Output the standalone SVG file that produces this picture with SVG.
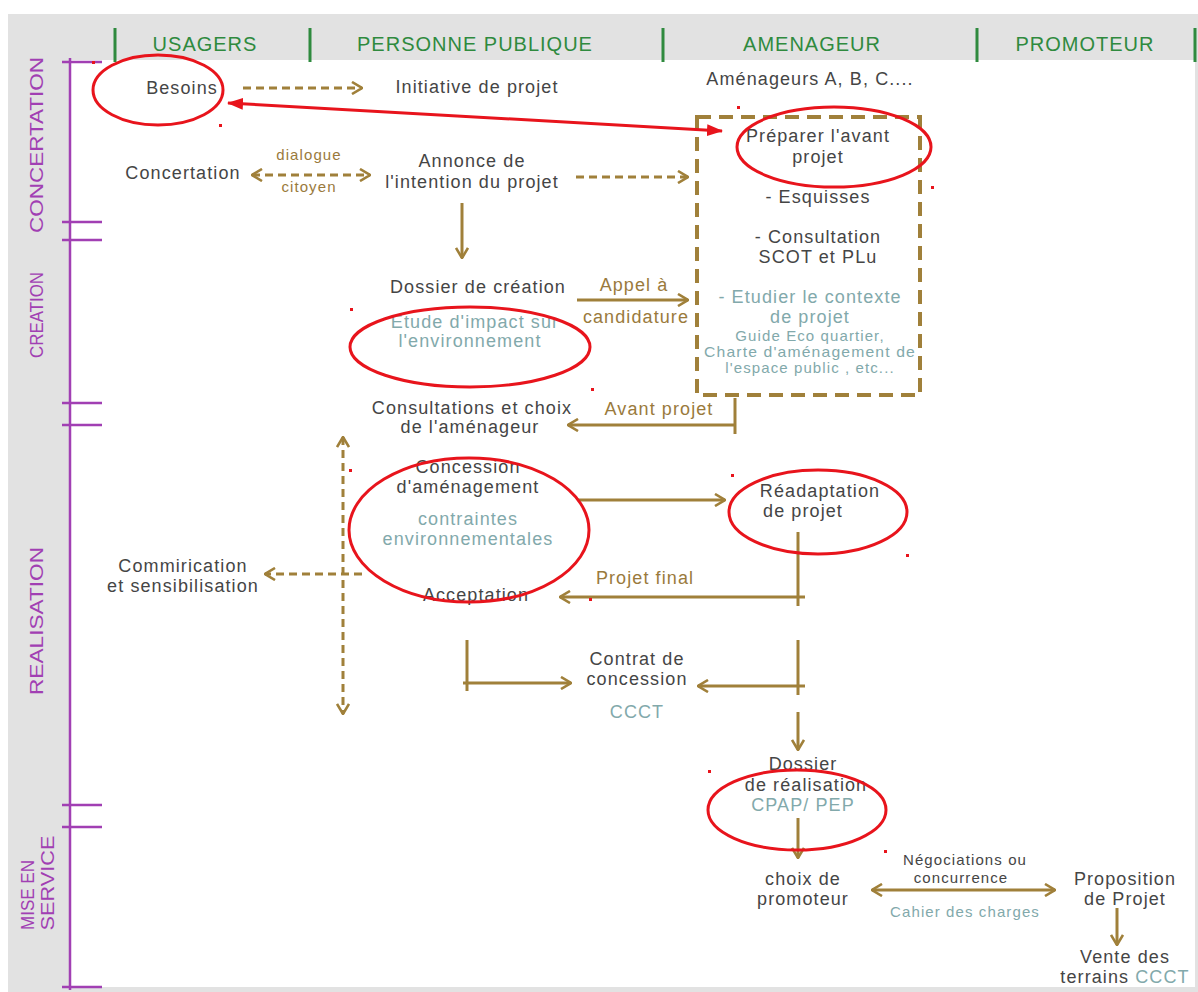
<svg xmlns="http://www.w3.org/2000/svg" width="1198" height="992" viewBox="0 0 1198 992">
<defs>
<style>
.t{font-family:"Liberation Sans",Arial,sans-serif;font-size:18px;letter-spacing:1.1px;fill:#454545;text-anchor:middle}
.s{font-size:15px;letter-spacing:1.1px}
.teal{fill:#82a9ab}
.lab{fill:#9a7a3c}
.hd{font-family:"Liberation Sans",Arial,sans-serif;font-size:20px;fill:#2f8a3e;text-anchor:middle;letter-spacing:1px}
.ph{font-family:"Liberation Sans",Arial,sans-serif;font-size:19px;fill:#a13fb3;text-anchor:middle}
.br{stroke:#a0803a;stroke-width:3;fill:none}
.dash{stroke-dasharray:8 5}
.pu{stroke:#a13fb3;stroke-width:2.5;fill:none}
.gr{stroke:#2f8a3e;stroke-width:3}
.red{stroke:#e8141c;stroke-width:3;fill:none}
.dot{fill:#e8141c}
</style>
<marker id="ah" viewBox="0 0 12 14" refX="11" refY="7" markerWidth="12" markerHeight="14" markerUnits="userSpaceOnUse" orient="auto-start-reverse">
<path d="M1,1 L11,7 L1,13" fill="none" stroke="#a0803a" stroke-width="2.6"/>
</marker>
<marker id="ra" viewBox="0 0 16 12" refX="15" refY="6" markerWidth="16" markerHeight="12" markerUnits="userSpaceOnUse" orient="auto-start-reverse">
<path d="M0,0 L16,6 L0,12 Z" fill="#e8141c"/>
</marker>
</defs>
<rect x="0" y="0" width="1198" height="992" fill="#ffffff"/>
<rect x="8" y="14" width="1190" height="978" fill="#e2e2e2"/>
<rect x="70" y="60" width="1125" height="927" fill="#ffffff"/>

<g id="header">
<line class="gr" x1="115" y1="28" x2="115" y2="62"/>
<line class="gr" x1="310" y1="28" x2="310" y2="62"/>
<line class="gr" x1="663" y1="28" x2="663" y2="62"/>
<line class="gr" x1="977" y1="28" x2="977" y2="62"/>
<line class="gr" x1="1195" y1="28" x2="1195" y2="62"/>
<text class="hd" x="205" y="51">USAGERS</text>
<text class="hd" x="475" y="51">PERSONNE PUBLIQUE</text>
<text class="hd" x="812" y="51">AMENAGEUR</text>
<text class="hd" x="1085" y="51">PROMOTEUR</text>
</g>

<g id="phases">
<line class="pu" x1="70" y1="58" x2="70" y2="990"/>
<line class="pu" x1="62" y1="62" x2="102" y2="62"/>
<line class="pu" x1="62" y1="222" x2="102" y2="222"/>
<line class="pu" x1="62" y1="240" x2="102" y2="240"/>
<line class="pu" x1="62" y1="403" x2="102" y2="403"/>
<line class="pu" x1="62" y1="425" x2="102" y2="425"/>
<line class="pu" x1="62" y1="805" x2="102" y2="805"/>
<line class="pu" x1="62" y1="827" x2="102" y2="827"/>
<line class="pu" x1="62" y1="987" x2="102" y2="987"/>
<text class="ph" transform="translate(43,145) rotate(-90)" textLength="176" lengthAdjust="spacingAndGlyphs">CONCERTATION</text>
<text class="ph" transform="translate(43,315) rotate(-90)" textLength="86" lengthAdjust="spacingAndGlyphs">CREATION</text>
<text class="ph" transform="translate(43,621) rotate(-90)" textLength="148" lengthAdjust="spacingAndGlyphs">REALISATION</text>
<text class="ph" transform="translate(34,895) rotate(-90)" textLength="70" lengthAdjust="spacingAndGlyphs">MISE EN</text>
<text class="ph" transform="translate(54,883) rotate(-90)" textLength="95" lengthAdjust="spacingAndGlyphs">SERVICE</text>
</g>

<g id="connectors">
<line class="br dash" x1="243" y1="88" x2="362" y2="88" marker-end="url(#ah)"/>
<line class="br dash" x1="252" y1="175" x2="370" y2="175" marker-start="url(#ah)" marker-end="url(#ah)"/>
<line class="br dash" x1="576" y1="177" x2="688" y2="177" marker-end="url(#ah)"/>
<line class="br" x1="462" y1="203" x2="462" y2="258" marker-end="url(#ah)"/>
<line class="br" x1="577" y1="300" x2="688" y2="300" marker-end="url(#ah)"/>
<line class="br" x1="735" y1="425" x2="568" y2="425" marker-end="url(#ah)"/>
<line class="br" x1="735" y1="398" x2="735" y2="434"/>
<line class="br dash" x1="343" y1="437" x2="343" y2="714" marker-start="url(#ah)" marker-end="url(#ah)"/>
<line class="br dash" x1="362" y1="574" x2="265" y2="574" marker-end="url(#ah)"/>
<line class="br" x1="578" y1="500" x2="725" y2="500" marker-end="url(#ah)"/>
<line class="br" x1="798" y1="532" x2="798" y2="606"/>
<line class="br" x1="805" y1="597" x2="560" y2="597" marker-end="url(#ah)"/>
<line class="br" x1="467" y1="640" x2="467" y2="691"/>
<line class="br" x1="463" y1="683" x2="571" y2="683" marker-end="url(#ah)"/>
<line class="br" x1="798" y1="640" x2="798" y2="695"/>
<line class="br" x1="805" y1="686" x2="698" y2="686" marker-end="url(#ah)"/>
<line class="br" x1="798" y1="712" x2="798" y2="750" marker-end="url(#ah)"/>
<line class="br" x1="798" y1="818" x2="798" y2="858" marker-end="url(#ah)"/>
<line class="br" x1="872" y1="890" x2="1055" y2="890" marker-start="url(#ah)" marker-end="url(#ah)"/>
<line class="br" x1="1117" y1="908" x2="1117" y2="945" marker-end="url(#ah)"/>
<text class="t lab s" x="309" y="160">dialogue</text>
<text class="t lab s" x="309" y="192">citoyen</text>
</g>

<g id="n-besoins"><text class="t" x="182" y="94">Besoins</text></g>
<g id="n-initiative"><text class="t" x="477" y="93">Initiative de projet</text></g>
<g id="n-amenageurs"><text class="t" x="810" y="85">Aménageurs A, B, C....</text></g>
<g id="n-concertation"><text class="t" x="183" y="179">Concertation</text></g>
<g id="n-annonce"><text class="t" x="472" y="167">Annonce de</text><text class="t" x="472" y="188">l'intention du projet</text></g>

<g id="n-avant-projet">
<rect x="697" y="117" width="223" height="278" fill="none" stroke="#a0803a" stroke-width="4" stroke-dasharray="14 8"/>
<text class="t" x="818" y="142">Préparer l'avant</text>
<text class="t" x="818" y="163">projet</text>
<text class="t" x="818" y="203">- Esquisses</text>
<text class="t" x="818" y="243">- Consultation</text>
<text class="t" x="818" y="263">SCOT et PLu</text>
<text class="t teal" x="810" y="303">- Etudier le contexte</text>
<text class="t teal" x="810" y="323">de projet</text>
<text class="t teal s" x="810" y="341">Guide Eco quartier,</text>
<text class="t teal s" x="810" y="357" textLength="212" lengthAdjust="spacingAndGlyphs">Charte d'aménagement de</text>
<text class="t teal s" x="810" y="373">l'espace public , etc...</text>
</g>

<g id="n-dossier-creation">
<text class="t" x="478" y="293">Dossier de création</text>
<text class="t teal" x="475" y="328">Etude d'impact sur</text>
<text class="t teal" x="470" y="347">l'environnement</text>
</g>
<g id="l-appel"><text class="t lab" x="634" y="291">Appel à</text><text class="t lab" x="636" y="323">candidature</text></g>
<g id="n-consultations"><text class="t" x="472" y="414">Consultations et choix</text><text class="t" x="470" y="433">de l'aménageur</text></g>
<g id="l-avant"><text class="t lab" x="659" y="415">Avant projet</text></g>
<g id="n-concession">
<text class="t" x="468" y="473">Concession</text>
<text class="t" x="468" y="493">d'aménagement</text>
<text class="t teal" x="468" y="525">contraintes</text>
<text class="t teal" x="468" y="545">environnementales</text>
</g>
<g id="n-communication"><text class="t" x="183" y="572">Commirication</text><text class="t" x="183" y="592">et sensibilisation</text></g>
<g id="n-readaptation"><text class="t" x="820" y="497">Réadaptation</text><text class="t" x="803" y="517">de projet</text></g>
<g id="l-final"><text class="t lab" x="645" y="584">Projet final</text></g>
<g id="n-acceptation"><text class="t" x="476" y="601">Acceptation</text></g>
<g id="n-contrat"><text class="t" x="637" y="665">Contrat de</text><text class="t" x="637" y="685">concession</text><text class="t teal" x="637" y="718">CCCT</text></g>
<g id="n-dossier-realisation"><text class="t" x="803" y="770">Dossier</text><text class="t" x="806" y="791">de réalisation</text><text class="t teal" x="803" y="811">CPAP/ PEP</text></g>
<g id="n-choix"><text class="t" x="803" y="885">choix de</text><text class="t" x="803" y="905">promoteur</text></g>
<g id="l-nego"><text class="t s" x="965" y="865">Négociations ou</text><text class="t s" x="961" y="883">concurrence</text><text class="t teal s" x="965" y="917">Cahier des charges</text></g>
<g id="n-proposition"><text class="t" x="1125" y="885">Proposition</text><text class="t" x="1125" y="905">de Projet</text></g>
<g id="n-vente"><text class="t" x="1125" y="963">Vente des</text><text class="t" x="1125" y="983">terrains <tspan class="teal">CCCT</tspan></text></g>

<g id="annotations">
<ellipse class="red" cx="158" cy="90" rx="65" ry="35"/>
<ellipse class="red" cx="834" cy="147" rx="97" ry="40"/>
<ellipse class="red" cx="470" cy="347" rx="120" ry="40"/>
<ellipse class="red" cx="469" cy="530" rx="120" ry="72"/>
<ellipse class="red" cx="818" cy="512" rx="89" ry="42"/>
<ellipse class="red" cx="797" cy="810" rx="89" ry="40"/>
<line class="red" x1="228" y1="103" x2="722" y2="131" marker-start="url(#ra)" marker-end="url(#ra)"/>
<rect class="dot" x="92" y="61" width="3" height="3"/>
<rect class="dot" x="219" y="124" width="3" height="3"/>
<rect class="dot" x="737" y="106" width="3" height="3"/>
<rect class="dot" x="931" y="186" width="3" height="3"/>
<rect class="dot" x="350" y="308" width="3" height="3"/>
<rect class="dot" x="591" y="388" width="3" height="3"/>
<rect class="dot" x="349" y="469" width="3" height="3"/>
<rect class="dot" x="731" y="474" width="3" height="3"/>
<rect class="dot" x="906" y="554" width="3" height="3"/>
<rect class="dot" x="589" y="598" width="3" height="3"/>
<rect class="dot" x="708" y="770" width="3" height="3"/>
<rect class="dot" x="884" y="850" width="3" height="3"/>
</g>
</svg>
